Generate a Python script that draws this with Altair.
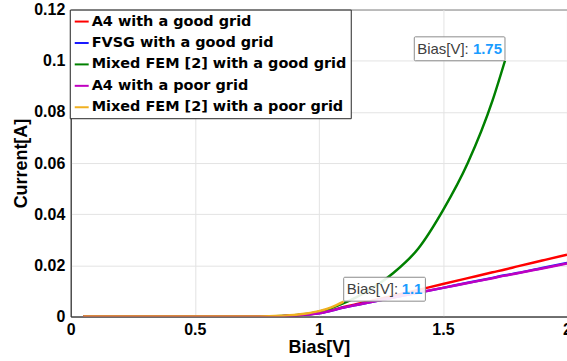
import altair as alt
import pandas as pd

# ---- data ----
series_names = [
    "A4 with a good grid",
    "FVSG with a good grid",
    "Mixed FEM [2] with a good grid",
    "A4 with a poor grid",
    "Mixed FEM [2] with a poor grid",
]
series_colors = ["#ff0000", "#1a1aff", "#008000", "#c000c0", "#f0b020"]

bias = [0.05, 0.1, 0.2, 0.3, 0.4, 0.5, 0.6, 0.7, 0.75, 0.8, 0.85, 0.9, 0.95,
        1.0, 1.05, 1.1, 1.15, 1.2, 1.3, 1.4, 1.5, 1.6, 1.7, 1.75, 1.8, 1.9, 2.0]

a4_good = [0, 0, 0, 0, 0, 0, 0, 0, 0.00002, 0.00005, 0.00015, 0.0004, 0.0008,
           0.0014, 0.0024, 0.0037, 0.0048, 0.0059, 0.0081, 0.0104, 0.0127,
           0.0150, 0.0173, 0.0184, 0.0196, 0.0219, 0.0242]
fvsg_good = [0, 0, 0, 0, 0, 0, 0, 0, 0.00002, 0.00005, 0.00015, 0.0004, 0.0008,
             0.0013, 0.0023, 0.0035, 0.0045, 0.0055, 0.0074, 0.0093, 0.0112,
             0.0132, 0.0151, 0.0161, 0.0170, 0.0190, 0.0209]
mixed_good = [0, 0, 0, 0, 0, 0, 0, 0, 0.00002, 0.00006, 0.0002, 0.0005, 0.001,
              0.0019, 0.0033, 0.0052, 0.0075, 0.0102, 0.0170, 0.0265, 0.0415,
              0.0600, 0.0845, 0.1000]
a4_poor = [0, 0, 0, 0, 0, 0, 0, 0, 0.00002, 0.00005, 0.00015, 0.0004, 0.0008,
           0.0013, 0.0023, 0.0035, 0.0045, 0.0055, 0.0074, 0.0093, 0.0112,
           0.0131, 0.0150, 0.0160, 0.0169, 0.0188, 0.0207]
mixed_poor = [0, 0, 0, 0, 0, 0, 0, 0, 0.00003, 0.0001, 0.0003, 0.0006, 0.0012,
              0.0021, 0.0036, 0.0058]

series_values = [a4_good, fvsg_good, mixed_good, a4_poor, mixed_poor]

tip_x = [1.75, 1.1]
tip_y = [0.1, 0.006]
tip_labels = ["1.75", "1.1"]

x_ticks = [0, 0.5, 1, 1.5, 2]
y_ticks = [0, 0.02, 0.04, 0.06, 0.08, 0.1, 0.12]

# ---- build table ----
rows = []
for name, vals in zip(series_names, series_values):
    for xv, yv in zip(bias, vals):
        rows.append({"Bias": xv, "Current": yv, "Series": name})
df = pd.DataFrame(rows)

FONT = "Liberation Sans"
LEGEND_FONT = "DejaVu Sans"

xscale = alt.Scale(domain=[0, 2], nice=False, zero=False)
yscale = alt.Scale(domain=[0, 0.12], nice=False)
cscale = alt.Scale(domain=series_names, range=series_colors)

xaxis = alt.Axis(values=x_ticks, labelExpr="datum.value + ''", title="Bias[V]",
                 grid=True, gridColor="#e3e3e3", tickSize=0, labelPadding=5,
                 labelFont=FONT, labelFontSize=16, labelFontWeight="bold",
                 labelColor="#000000", titleFont=FONT, titleFontSize=18,
                 titleFontWeight="bold", titleColor="#000000", titlePadding=1,
                 domainColor="#262626", labelFlush=False, labelOverlap=False)
yaxis = alt.Axis(values=y_ticks, labelExpr="datum.value + ''", title="Current[A]",
                 grid=True, gridColor="#e3e3e3", tickSize=0, labelPadding=6,
                 labelFont=FONT, labelFontSize=16, labelFontWeight="bold",
                 labelColor="#000000", titleFont=FONT, titleFontSize=18,
                 titleFontWeight="bold", titleColor="#000000", titlePadding=3,
                 domainColor="#262626", labelOverlap=False)

legend = alt.Legend(title=None, orient="none", legendX=-1, legendY=0,
                    fillColor="white", strokeColor="#262626", padding=4,
                    symbolType="stroke", symbolSize=196, symbolStrokeWidth=2,
                    symbolOffset=0, labelOffset=2, rowPadding=6.5,
                    labelFont=LEGEND_FONT, labelFontSize=14.5, labelFontWeight="bold",
                    labelColor="#000000", labelLimit=400)

X = lambda f: alt.X(f, scale=xscale, axis=xaxis)
Y = lambda f: alt.Y(f, scale=yscale, axis=yaxis)

layers = []
for i, name in enumerate(series_names):
    layer = alt.Chart(df[df["Series"] == name]).mark_line(
        strokeWidth=2.5, clip=True, interpolate="monotone"
    ).encode(
        x=X("Bias:Q"),
        y=Y("Current:Q"),
        color=alt.Color("Series:N", scale=cscale, legend=legend),
        order=alt.Order("Bias:Q"),
    )
    layers.append(layer)

tips = pd.DataFrame({"Bias": tip_x, "Current": tip_y, "label": tip_labels})
tip1 = tips.iloc[[0]]
tip2 = tips.iloc[[1]]

def datatip(d, left_off, right_off):
    box = alt.Chart(d).mark_rect(
        fill="white", fillOpacity=0.9, stroke="#8c8c8c", strokeWidth=1,
        xOffset=left_off, x2Offset=right_off, yOffset=-24, y2Offset=0,
        cornerRadius=1,
    ).encode(
        x=X("Bias:Q"), x2="Bias:Q",
        y=Y("Current:Q"), y2="Current:Q",
    )
    t1 = alt.Chart(d).mark_text(
        text="Bias[V]:", align="left", baseline="middle", dx=left_off + 3,
        dy=-12, font=FONT, fontSize=15, color="#404040",
    ).encode(x=X("Bias:Q"), y=Y("Current:Q"))
    t2 = alt.Chart(d).mark_text(
        align="right", baseline="middle", dx=right_off - 3, dy=-12,
        font=FONT, fontSize=15, fontWeight="bold", color="#1a9cff",
    ).encode(x=X("Bias:Q"), y=Y("Current:Q"), text="label:N")
    return [box, t1, t2]

chart = alt.layer(
    *layers, *datatip(tip1, -91, 0), *datatip(tip2, 0, 82)
).properties(
    width=498, height=308,
    padding={"left": 71, "top": 9, "right": 0, "bottom": 44},
    autosize=alt.AutoSizeParams(type="none"),
    background="white",
).configure_view(
    stroke="#262626", strokeWidth=1,
)

chart.save("out.html", embed_options={"renderer": "svg", "actions": False})
